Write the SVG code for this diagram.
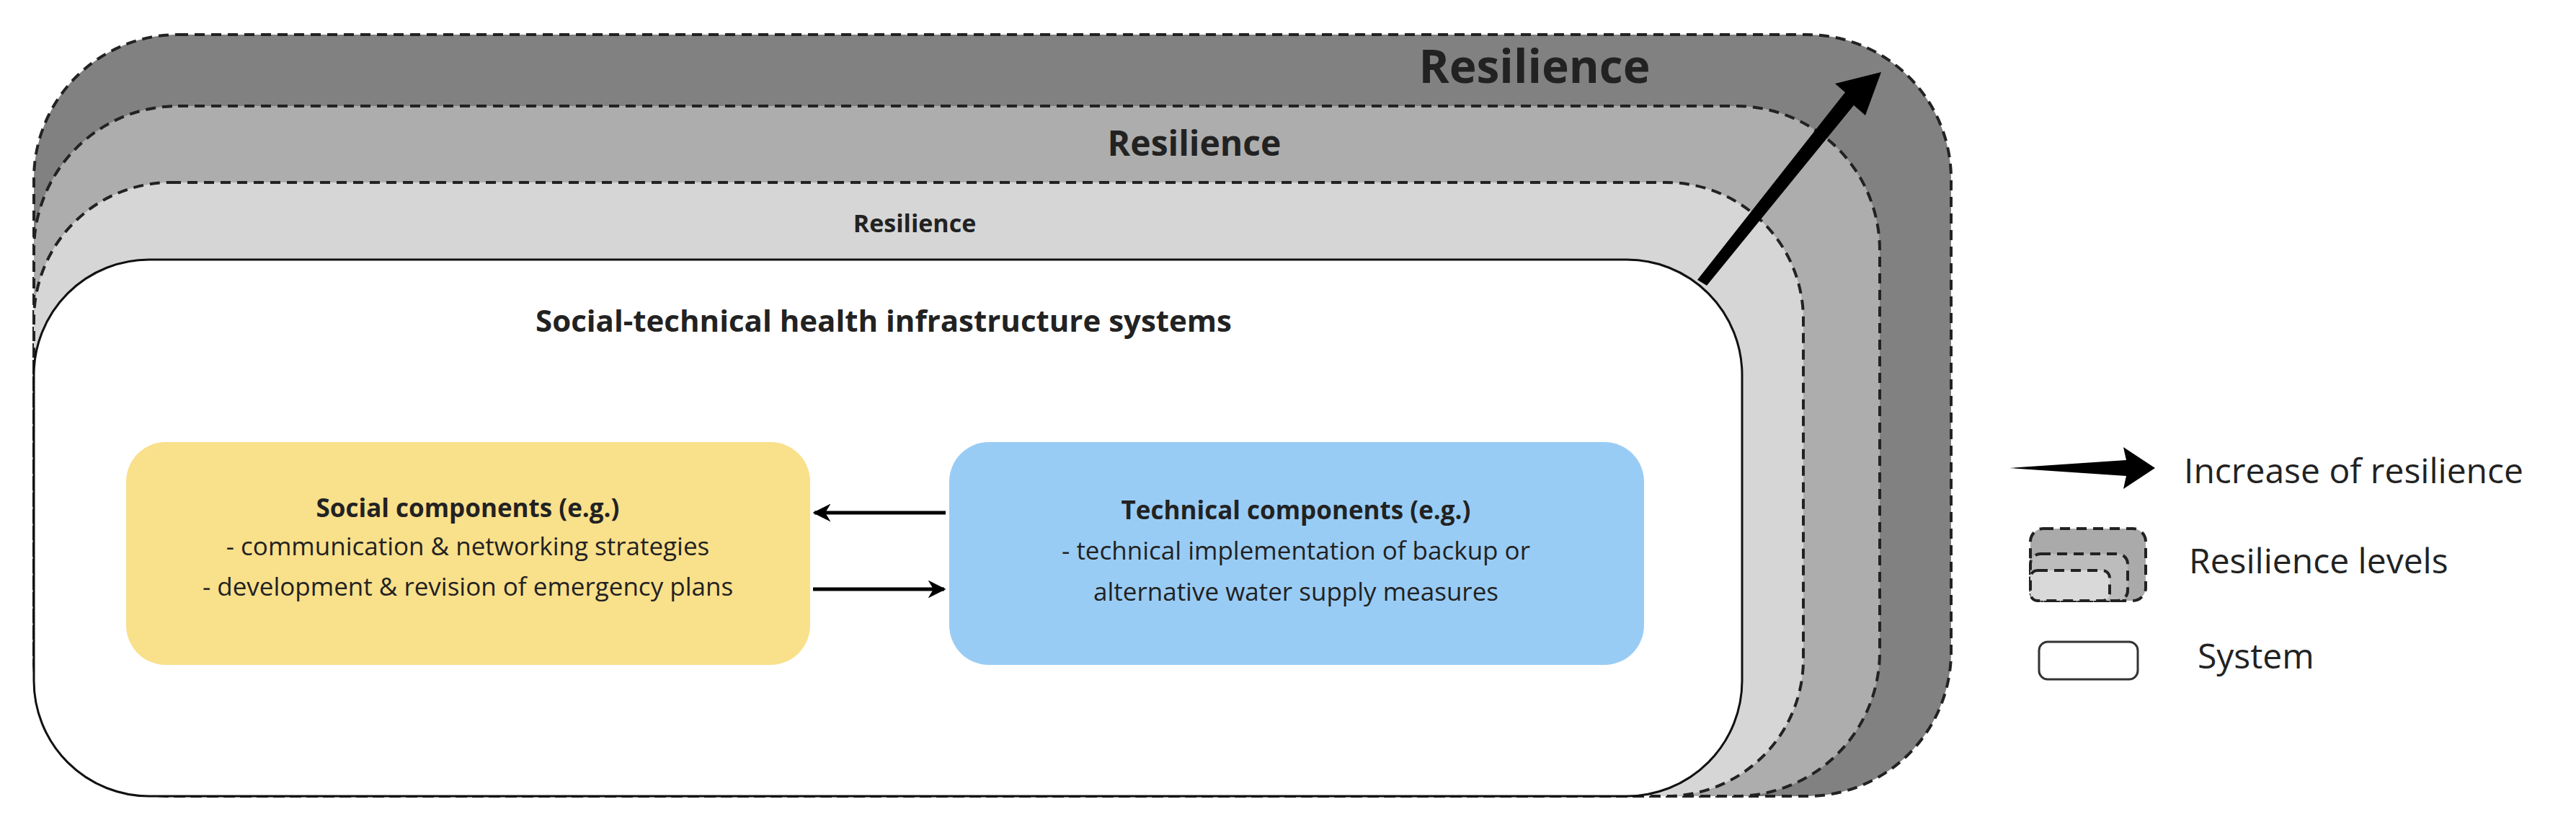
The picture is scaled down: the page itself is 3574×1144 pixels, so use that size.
<svg xmlns="http://www.w3.org/2000/svg" width="3574" height="1144" viewBox="0 0 3574 1144">
<style>
text{font-family:"Open Sans","Liberation Sans",sans-serif;fill:#222}
.b{font-weight:bold}
.lvl{stroke:#222;stroke-width:4;stroke-dasharray:14 9}
.c{text-anchor:middle}
</style>
<defs>
<marker id="ah" viewBox="0 0 10 10" refX="9" refY="5" markerWidth="5" markerHeight="5" orient="auto"><path d="M0,0 L10,5 L0,10 L3,5 Z" fill="#000"/></marker>
</defs>
<rect width="3574" height="1144" fill="#fff"/>
<g id="level3"><rect class="lvl" x="47" y="48" width="2660" height="1056" rx="200" fill="#818181"/>
<text class="b c" x="2129" y="115" font-size="64">Resilience</text></g>
<g id="level2"><rect class="lvl" x="47" y="147" width="2561" height="957" rx="200" fill="#adadad"/>
<text class="b c" x="1657" y="216" font-size="48">Resilience</text></g>
<g id="level1"><rect class="lvl" x="47" y="253" width="2455" height="851" rx="190" fill="#d6d6d6"/>
<text class="b c" x="1269" y="322" font-size="34">Resilience</text></g>
<g id="system"><rect x="47" y="360" width="2370" height="744" rx="160" fill="#fff" stroke="#111" stroke-width="3"/>
<text class="b c" x="1226" y="460" font-size="42">Social-technical health infrastructure systems</text></g>
<g id="increase-arrow"><path d="M2355,388 L2368,396 L2572,146 L2588,160 L2610,100 L2546,116 L2560,128 Z" fill="#000"/></g>
<g id="social"><rect x="175" y="613" width="949" height="309" rx="55" fill="#f9e08b"/>
<text class="b c" x="649" y="717" font-size="35">Social components (e.g.)</text>
<text class="c" x="649" y="770" font-size="35">-  communication &amp; networking  strategies</text>
<text class="c" x="649" y="826" font-size="35">- development &amp; revision of emergency plans</text></g>
<g id="technical"><rect x="1317" y="613" width="964" height="309" rx="55" fill="#99ccf5"/>
<text class="b c" x="1798" y="720" font-size="35">Technical components (e.g.)</text>
<text class="c" x="1798" y="776" font-size="35">- technical implementation of backup or</text>
<text class="c" x="1798" y="833" font-size="35">alternative water supply measures</text></g>
<g id="connectors" stroke="#000" stroke-width="5" fill="none">
<line x1="1312" y1="711" x2="1130" y2="711" marker-end="url(#ah)"/>
<line x1="1128" y1="817" x2="1310" y2="817" marker-end="url(#ah)"/>
</g>
<g id="legend">
<path d="M2788,649 L2950,638 L2946,620 L2990,649 L2946,678 L2950,660 Z" fill="#000"/>
<text x="3030" y="670" font-size="48">Increase of resilience</text>
<rect class="lvl" x="2817" y="733" width="160" height="100" rx="18" fill="#aaa" stroke-width="3"/>
<rect class="lvl" x="2817" y="768" width="135" height="65" rx="14" fill="#bcbcbc" stroke-width="3"/>
<rect class="lvl" x="2817" y="791" width="110" height="42" rx="10" fill="#d9d9d9" stroke-width="3"/>
<text x="3037" y="795" font-size="48">Resilience levels</text>
<rect x="2829" y="890" width="137" height="52" rx="12" fill="#fff" stroke="#333" stroke-width="3"/>
<text x="3049" y="927" font-size="48">System</text>
</g>
</svg>
